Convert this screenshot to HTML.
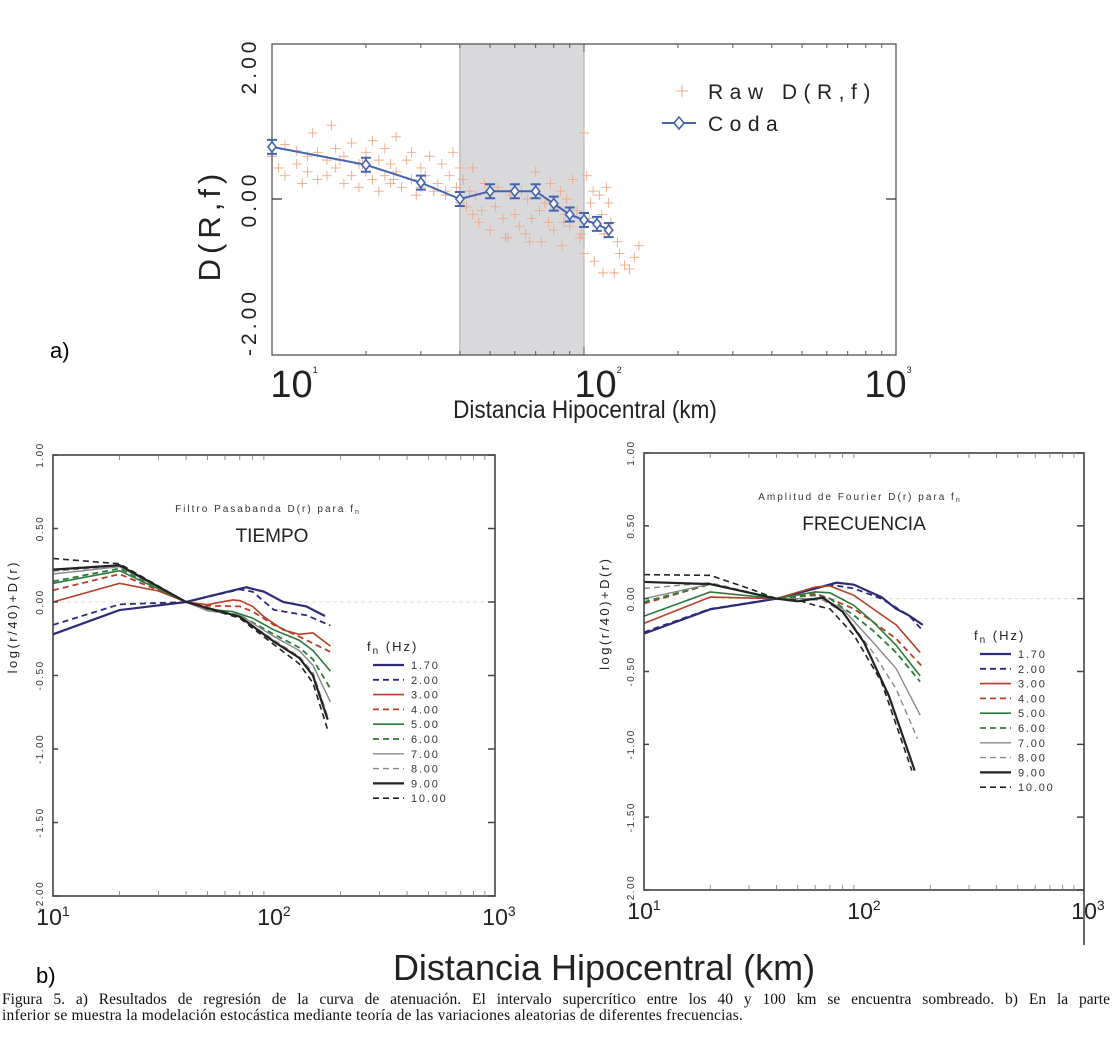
<!DOCTYPE html>
<html><head><meta charset="utf-8"><style>
body{margin:0;background:#fff;width:1116px;height:1055px;overflow:hidden}
svg{display:block;font-family:"Liberation Sans",sans-serif}
.cap{position:absolute;left:2px;top:992px;width:1108px;font-family:"Liberation Serif",serif;font-size:15.5px;line-height:16px;color:#111;white-space:nowrap}
.cap div:first-child{text-align:justify;text-align-last:justify;white-space:normal}
.cap div:last-child{letter-spacing:0.2px}
</style></head><body>
<svg id="fig" width="1116" height="1055">
<g id="top"></g>
<g id="bl"></g>
<g id="br"></g>
<text x="50" y="358" font-size="22">a)</text>
<text x="36" y="983" font-size="22">b)</text>
<text x="604" y="980" font-size="36" text-anchor="middle" fill="#222">Distancia Hipocentral (km)</text>
</svg>
<div class="cap"><div>Figura 5. a) Resultados de regresión de la curva de atenuación. El intervalo supercrítico entre los 40 y 100 km se encuentra sombreado. b) En la parte</div><div>inferior se muestra la modelación estocástica mediante teoría de las variaciones aleatorias de diferentes frecuencias.</div></div>
<script>
// ---- Panel a data ----
const codaR = [10,20,30,40,50,60,70,80,90,100,110,120];
const codaD = [0.67,0.44,0.21,0.0,0.10,0.10,0.10,-0.06,-0.20,-0.27,-0.32,-0.40];
const rawR = [10,10.5,11,11,12,12,12.5,13,13,14,14,15,15,15.5,16,16,17,17,18,18,19,19,20,20,21,21,22,22,23,23,24,24,25,25,26,27,28,28,29,30,30,31,32,33,34,35,36,37,38,39,40,40,41,42,43,44,45,46,47,48,50,52,53,55,56,58,60,62,63,65,66,68,70,72,73,75,77,78,80,82,84,85,87,88,90,92,95,97,100,100,102,104,105,107,108,110,112,114,116,118,120,122,125,128,130,135,140,145,150,13.5,16.5,19.5,24.5,36,44,57,67,86,98,115];
const rawD = [0.55,0.40,0.70,0.30,0.62,0.45,0.20,0.55,0.35,0.60,0.25,0.50,0.30,0.95,0.65,0.40,0.20,0.55,0.72,0.30,0.45,0.15,0.60,0.35,0.75,0.25,0.50,0.10,0.65,0.30,0.45,0.20,0.80,0.35,0.15,0.50,0.25,0.60,0.05,0.40,0.15,0.30,0.55,0.10,0.20,0.45,0.05,0.30,0.60,0.15,-0.05,0.40,0.25,-0.10,0.10,-0.20,0.05,-0.30,-0.15,0.20,-0.40,-0.10,0.15,-0.25,-0.50,0.05,-0.20,-0.35,0.10,-0.45,0.00,-0.25,0.35,-0.15,-0.55,-0.05,-0.30,0.20,-0.40,-0.10,0.10,-0.60,-0.20,0.00,-0.35,0.25,-0.15,-0.50,0.85,-0.70,0.30,-0.25,-0.05,0.10,-0.80,-0.35,0.05,-0.20,-0.45,0.15,-0.05,-0.30,-0.95,-0.55,-0.70,-0.85,-0.90,-0.75,-0.60,0.85,0.50,0.45,0.25,0.10,0.40,-0.50,-0.55,-0.30,-0.45,-0.95];

// ---- Panel b (TIEMPO) data ----
const tR_17 = [10,20,40,50,70,75,90,110,140,170];
const tD_17 = [-0.22,-0.055,0,0.036,0.09,0.10,0.07,0.0,-0.03,-0.095];
const tR_20 = [10,20,40,70,80,100,140,180];
const tD_20 = [-0.156,-0.016,0,0.086,0.07,-0.054,-0.09,-0.16];
const tR_30 = [10,20,30,40,50,65,70,80,90,110,130,150,180];
const tD_30 = [0,0.127,0.075,0,-0.018,0.014,0.01,-0.03,-0.10,-0.19,-0.22,-0.21,-0.30];
const tR_40 = [10,20,40,50,70,80,100,130,180];
const tD_40 = [0.08,0.19,0,-0.025,-0.03,-0.065,-0.156,-0.235,-0.34];
const tR_50 = [10,20,40,50,65,80,100,130,150,180];
const tD_50 = [0.127,0.213,0,-0.05,-0.065,-0.11,-0.19,-0.26,-0.33,-0.47];
const tR_60 = [10,20,40,50,70,100,130,150,180];
const tD_60 = [0.14,0.228,0,-0.05,-0.09,-0.22,-0.31,-0.39,-0.59];
const tR_70 = [10,20,40,50,70,100,130,150,180];
const tD_70 = [0.19,0.24,0,-0.06,-0.09,-0.235,-0.33,-0.43,-0.68];
const tR_80 = [10,20,40,70,100,130,150,175];
const tD_80 = [0.21,0.244,0,-0.10,-0.26,-0.37,-0.48,-0.78];
const tR_90 = [10,20,40,70,100,130,150,175];
const tD_90 = [0.22,0.25,0,-0.10,-0.27,-0.38,-0.50,-0.80];
const tR_100 = [10,20,40,70,100,130,150,175];
const tD_100 = [0.296,0.26,0,-0.11,-0.29,-0.42,-0.55,-0.87];

// ---- Panel b (FRECUENCIA) data ----
const fR_17 = [10,20,40,60,75,90,120,140,160,185];
const fD_17 = [-0.24,-0.073,0,0.069,0.11,0.096,0.011,-0.07,-0.115,-0.18];
const fR_20 = [10,20,40,70,90,120,160,185];
const fD_20 = [-0.23,-0.07,0,0.096,0.07,0,-0.115,-0.22];
const fR_30 = [10,20,40,60,70,90,110,140,180];
const fD_30 = [-0.17,0.011,0,0.08,0.087,0.023,-0.07,-0.18,-0.37];
const fR_40 = [10,20,40,60,70,90,110,140,185];
const fD_40 = [-0.034,0.10,0,0.035,0,-0.07,-0.16,-0.275,-0.47];
const fR_50 = [10,20,40,60,70,90,110,140,180];
const fD_50 = [-0.12,0.046,0,0.046,0.04,-0.046,-0.16,-0.32,-0.53];
const fR_60 = [10,20,40,60,70,90,110,140,180];
const fD_60 = [-0.023,0.10,0,0.023,0,-0.115,-0.22,-0.37,-0.57];
const fR_70 = [10,20,40,65,80,110,140,180];
const fD_70 = [0,0.10,0,0,-0.07,-0.30,-0.48,-0.80];
const fR_80 = [10,20,40,65,80,110,140,175];
const fD_80 = [0.07,0.11,0,-0.01,-0.09,-0.37,-0.62,-0.96];
const fR_90 = [10,20,40,50,65,80,100,130,170];
const fD_90 = [0.115,0.10,0,-0.018,0.007,-0.09,-0.30,-0.67,-1.18];
const fR_100 = [10,20,30,40,50,60,70,90,120,165];
const fD_100 = [0.165,0.16,0.07,0,-0.01,-0.046,-0.07,-0.25,-0.57,-1.18];

const legendLabels = ["1.70","2.00","3.00","4.00","5.00","6.00","7.00","8.00","9.00","10.00"];
const yTickVals = [1.0,0.5,0.0,-0.5,-1.0,-1.5,-2.0];
const yTickLabels = ["1.00","0.50","0.00","-0.50","-1.00","-1.50","-2.00"];

const NS="http://www.w3.org/2000/svg";
function mk(parent,tag,attrs,txt){const e=document.createElementNS(NS,tag);for(const k in attrs)e.setAttribute(k,attrs[k]);if(txt!==undefined)e.textContent=txt;parent.appendChild(e);return e;}

// ===== Panel a =====
(function(){
const g=document.getElementById('top');
const L=272,R=896,T=44,B=355,dec=312;
const X=r=>L+Math.log10(r/10)*dec;
const Y=d=>199-d*77.75;
let sh=mk(g,'rect',{x:X(40),y:T,width:X(100)-X(40),height:B-T,fill:'#d9d8da',stroke:'#aaa'});


for(let i=0;i<rawR.length;i++){
  const x=X(rawR[i]),y=Y(rawD[i]);
  const p=mk(g,'path',{d:`M${x-5},${y}H${x+5}M${x},${y-5}V${y+5}`,stroke:'#f0a888','stroke-width':0.9});
  
  
}
let box=mk(g,'rect',{x:L,y:T,width:R-L,height:B-T,fill:'none',stroke:'#555','stroke-width':1.3});


for(let d=1;d<=3;d++)for(let m=1;m<10;m++){const x=L+(d-1+Math.log10(m))*dec;if(x>R)break;const len=m===1?8:4;
 mk(g,'path',{d:`M${x},${T}v${len}M${x},${B}v${-len}`,stroke:'#555','stroke-width':1});}
mk(g,'path',{d:`M${L},199h10M${R},199h-10`,stroke:'#333','stroke-width':1.2});
let pts=codaR.map((r,i)=>X(r)+','+Y(codaD[i])).join(' ');
let cl=mk(g,'polyline',{points:pts,fill:'none',stroke:'#4564b0','stroke-width':2});


codaR.forEach((r,i)=>{const x=X(r),y=Y(codaD[i]);
 const e=mk(g,'path',{d:`M${x},${y-7}V${y+7}M${x-5},${y-7}h10M${x-5},${y+7}h10`,stroke:'#4564b0','stroke-width':2,fill:'none'});
 
 
 const m=mk(g,'path',{d:`M${x},${y-5}L${x+4},${y}L${x},${y+5}L${x-4},${y}Z`,stroke:'#4564b0','stroke-width':1.6,fill:'#fff'});
 
 });
mk(g,'path',{d:'M676,91h12M682,85v12',stroke:'#f0a888','stroke-width':1});
let t1=mk(g,'text',{x:708,y:99,'font-size':21,'letter-spacing':'6.5',fill:'#222'},'Raw D(R,f)');

mk(g,'path',{d:'M662,123h34',stroke:'#4564b0','stroke-width':2});
mk(g,'path',{d:'M679,117l5,6l-5,6l-5,-6Z',stroke:'#4564b0','stroke-width':1.6,fill:'#fff'});
let t2=mk(g,'text',{x:708,y:131,'font-size':21,'letter-spacing':'6.5',fill:'#222'},'Coda');

[[2,'2.00',66],[0,'0.00',199],[-2,'-2.00',322]].forEach(([v,s,cy])=>{
 const t=mk(g,'text',{x:0,y:0,transform:`translate(256,${cy}) rotate(-90)`,'font-size':21,'letter-spacing':'4','text-anchor':'middle',fill:'#222'},s);
 });
let yt=mk(g,'text',{x:0,y:0,transform:'translate(220,225) rotate(-90)','font-size':31,'letter-spacing':'5','text-anchor':'middle',fill:'#222'},'D(R,f)');

[['1',X(10)+22],['2',X(100)+14],['3',X(1000)-8]].forEach(([e,x])=>{
 const t=mk(g,'text',{x:x,y:397,'font-size':38,'text-anchor':'middle',fill:'#222'});
 
 t.appendChild(document.createTextNode('10'));
 mk(t,'tspan',{'font-size':9,dy:-24},e);});
let xt=mk(g,'text',{x:585,y:418,'font-size':25,'text-anchor':'middle',fill:'#222',transform:'translate(585,0) scale(0.9,1) translate(-585,0)'},'Distancia Hipocentral (km)');

})();

// ===== Panels b =====
const styles=[['#2e2a78',0,2.2],['#2e2a78',1,1.8],['#b5402a',0,1.6],['#b5402a',1,1.8],['#2e7a3a',0,1.6],['#2e7a3a',1,1.8],['#888',0,1.4],['#888',1,1.4],['#222',0,2.2],['#222',1,1.6]];
function panel(id,L,R,T,B,rs,ds,title,big,tcx,tcy,legX,legY,ylabX,ytitX){
 const g=document.getElementById(id);
 const dec=(R-L)/2, X=r=>L+Math.log10(r/10)*dec, per=(B-T)/3, Y=v=>T+(1-v)*per;
 mk(g,'line',{x1:L,x2:R,y1:Y(0),y2:Y(0),stroke:'#ddd','stroke-dasharray':'4,3'});
 rs.forEach((r,k)=>{
  const s=styles[k];
  const pl=mk(g,'polyline',{points:r.map((x,i)=>X(x)+','+Y(ds[k][i])).join(' '),fill:'none',stroke:s[0],'stroke-width':s[2]});
  if(s[1])pl.setAttribute('stroke-dasharray','6,4');
  
  
 });
 const fr=mk(g,'rect',{x:L,y:T,width:R-L,height:B-T,fill:'none',stroke:'#444','stroke-width':1.6});
 
 for(let d=1;d<=2;d++)for(let m=2;m<10;m++){const x=L+(d-1+Math.log10(m))*dec;mk(g,'path',{d:`M${x},${B}v-5M${x},${T}v5`,stroke:'#777','stroke-width':0.8});}
 yTickVals.forEach((v,i)=>{const y=Y(v);
  mk(g,'path',{d:`M${R},${y}h-7M${L},${y}h5`,stroke:'#444','stroke-width':1.5});
  const t=mk(g,'text',{x:0,y:0,transform:`translate(${ylabX},${y}) rotate(-90)`,'font-size':10,'letter-spacing':'1.5','text-anchor':'middle',fill:'#333'},yTickLabels[i]);
  });
 const yt=mk(g,'text',{x:0,y:0,transform:`translate(${ytitX},${Y(-0.1)}) rotate(-90)`,'font-size':13,'letter-spacing':'2.5','text-anchor':'middle',fill:'#222'},'log(r/40)+D(r)');
 
 ['1','2','3'].forEach((e,i)=>{const t=mk(g,'text',{x:L+i*dec+(i===2?4:0),y:B+29,'font-size':23,'text-anchor':'middle',fill:'#222'});
  
  t.appendChild(document.createTextNode('10'));mk(t,'tspan',{'font-size':14,dy:-9},e);});
 const st=mk(g,'text',{x:tcx,y:tcy,'font-size':10,'letter-spacing':'2','text-anchor':'middle',fill:'#333'});
 
 st.appendChild(document.createTextNode(title+' f'));mk(st,'tspan',{'font-size':7,dy:2},'n');
 const bt=mk(g,'text',{x:tcx+4,y:tcy+30,'font-size':19,'text-anchor':'middle',fill:'#222'},big);
 
 const lt=mk(g,'text',{x:legX-6,y:legY-14,'font-size':13,'letter-spacing':'2',fill:'#222'});
 
 lt.appendChild(document.createTextNode('f'));mk(lt,'tspan',{'font-size':10,dy:3},'n');mk(lt,'tspan',{dy:-3},' (Hz)');
 legendLabels.forEach((lab,k)=>{const y=legY+k*14.8,s=styles[k];
  const ln=mk(g,'line',{x1:legX,x2:legX+31,y1:y,y2:y,stroke:s[0],'stroke-width':s[2]});
  if(s[1])ln.setAttribute('stroke-dasharray','6,4');
  const t=mk(g,'text',{x:legX+38,y:y+4,'font-size':11,'letter-spacing':'1.8',fill:'#333'},lab);
  });
}
panel('bl',53,495,455,896,[tR_17,tR_20,tR_30,tR_40,tR_50,tR_60,tR_70,tR_80,tR_90,tR_100],[tD_17,tD_20,tD_30,tD_40,tD_50,tD_60,tD_70,tD_80,tD_90,tD_100],'Filtro Pasabanda D(r) para','TIEMPO',268,512,373,665,43,17);
panel('br',644,1084,453,890,[fR_17,fR_20,fR_30,fR_40,fR_50,fR_60,fR_70,fR_80,fR_90,fR_100],[fD_17,fD_20,fD_30,fD_40,fD_50,fD_60,fD_70,fD_80,fD_90,fD_100],'Amplitud de Fourier D(r) para','FRECUENCIA',860,500,980,654,634,609);
mk(document.getElementById('br'),'line',{x1:1084,x2:1084,y1:890,y2:945,stroke:'#444','stroke-width':1.6});
</script>
</body></html>
